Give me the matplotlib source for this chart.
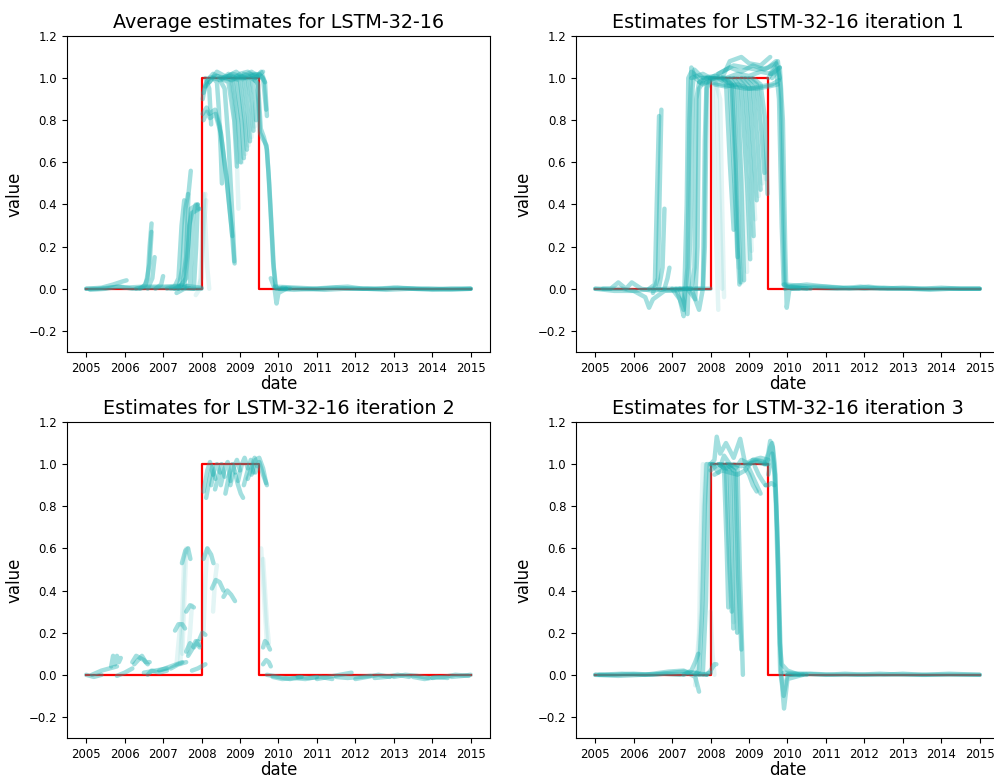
import matplotlib
matplotlib.use("Agg")
import matplotlib.pyplot as plt

# ---- shared values ----
year_ticks = [2005, 2006, 2007, 2008, 2009, 2010, 2011, 2012, 2013, 2014, 2015]
value_ticks = [-0.2, 0.0, 0.2, 0.4, 0.6, 0.8, 1.0, 1.2]
target_x = [2005.0, 2008.0, 2008.0, 2009.5, 2009.5, 2015.0]
target_y = [0.0, 0.0, 1.0, 1.0, 0.0, 0.0]

titles = [
    "Average estimates for LSTM-32-16",
    "Estimates for LSTM-32-16 iteration 1",
    "Estimates for LSTM-32-16 iteration 2",
    "Estimates for LSTM-32-16 iteration 3",
]

# ---- average estimates: (dates, values) per window ----
avg_paths = [
    ([2005.0, 2005.3, 2005.6, 2005.9, 2006.2, 2006.6, 2007.0, 2007.4, 2007.8, 2008.0],
     [0.0, 0.0, 0.005, 0.01, 0.0, 0.005, 0.005, 0.01, 0.0, 0.0]),
    ([2005.0, 2005.4, 2005.7, 2005.95, 2006.05], [0.0, 0.005, 0.02, 0.035, 0.04]),
    ([2005.1, 2005.5, 2005.8, 2006.0, 2006.5, 2007.0, 2007.5, 2008.0],
     [-0.005, 0.0, 0.01, 0.005, 0.01, 0.01, 0.015, 0.005]),
    ([2006.3, 2006.5, 2006.6, 2006.65, 2006.7], [0.0, 0.01, 0.05, 0.2, 0.31]),
    ([2006.4, 2006.55, 2006.65, 2006.7], [0.0, 0.02, 0.12, 0.27]),
    ([2006.6, 2006.72, 2006.78], [0.0, 0.05, 0.15]),
    ([2006.8, 2006.95, 2007.0], [0.0, 0.02, 0.06]),
    ([2007.1, 2007.3, 2007.4, 2007.48, 2007.55], [0.0, 0.01, 0.05, 0.3, 0.42]),
    ([2007.2, 2007.4, 2007.5, 2007.58, 2007.65], [0.0, 0.0, 0.1, 0.38, 0.45]),
    ([2007.3, 2007.5, 2007.6, 2007.66, 2007.72], [0.0, 0.02, 0.15, 0.45, 0.56]),
    ([2007.35, 2007.55, 2007.65, 2007.72, 2007.9], [-0.02, 0.0, 0.2, 0.38, 0.4]),
    ([2007.4, 2007.6, 2007.68, 2007.75, 2007.95], [0.0, 0.05, 0.3, 0.36, 0.38]),
    ([2007.5, 2007.7, 2007.78, 2007.85, 2007.92], [0.0, 0.02, 0.35, 0.4, 0.38]),
    ([2007.6, 2007.8, 2007.86, 2007.9], [0.0, 0.0, 0.2, 0.4]),
    # windows sitting on the 1.0 level
    ([2008.03, 2008.1, 2008.2, 2008.4, 2008.6, 2008.8, 2009.0, 2009.2, 2009.4, 2009.55, 2009.65],
     [0.9, 0.97, 1.0, 1.01, 1.0, 1.02, 1.01, 1.0, 1.02, 1.01, 0.98]),
    ([2008.05, 2008.15, 2008.3, 2008.5, 2008.7, 2008.9, 2009.1, 2009.3, 2009.5],
     [0.93, 0.99, 1.02, 1.0, 1.01, 1.03, 1.0, 1.02, 1.0]),
    ([2008.1, 2008.3, 2008.5, 2008.7, 2008.9, 2009.1, 2009.3, 2009.45],
     [0.96, 1.0, 0.99, 1.02, 1.0, 1.01, 1.03, 1.01]),
    ([2008.2, 2008.4, 2008.6, 2008.8, 2009.0, 2009.2, 2009.4, 2009.6],
     [0.98, 1.03, 1.01, 0.99, 1.02, 1.03, 1.0, 1.03]),
    ([2008.1, 2008.2, 2008.25], [1.0, 0.95, 0.78]),
    # slower window peaking near 0.85
    ([2008.03, 2008.13, 2008.2, 2008.35, 2008.48, 2008.65, 2008.78, 2008.85],
     [0.83, 0.86, 0.83, 0.85, 0.77, 0.53, 0.29, 0.13]),
    ([2008.05, 2008.14, 2008.22, 2008.36, 2008.5, 2008.66, 2008.8],
     [0.8, 0.84, 0.81, 0.83, 0.74, 0.5, 0.25]),
    ([2008.3, 2008.4, 2008.45, 2008.5, 2008.53], [1.0, 0.98, 0.85, 0.65, 0.5]),
    ([2008.45, 2008.6, 2008.7, 2008.8, 2008.86], [1.0, 0.95, 0.7, 0.35, 0.12]),
    # windows dropping off before mid-2009
    ([2008.5, 2008.7, 2008.85, 2008.92], [1.0, 0.98, 0.8, 0.58]),
    ([2008.6, 2008.8, 2008.95, 2009.02], [1.0, 0.99, 0.8, 0.6]),
    ([2008.7, 2008.9, 2009.05, 2009.1], [1.01, 1.0, 0.78, 0.62]),
    ([2008.8, 2009.0, 2009.12, 2009.18], [1.0, 0.99, 0.8, 0.66]),
    ([2008.9, 2009.1, 2009.2, 2009.26], [1.01, 1.0, 0.85, 0.7]),
    ([2009.0, 2009.2, 2009.3, 2009.35], [1.0, 1.0, 0.88, 0.75]),
    ([2009.1, 2009.3, 2009.4, 2009.42], [1.02, 1.0, 0.9, 0.8]),
    # exit from the 1.0 level
    ([2009.3, 2009.45, 2009.52, 2009.6, 2009.69, 2009.74, 2009.8, 2009.86, 2009.92, 2010.0, 2010.3],
     [1.0, 0.98, 0.74, 0.71, 0.68, 0.55, 0.35, 0.13, 0.01, 0.0, 0.0]),
    ([2009.35, 2009.47, 2009.54, 2009.62, 2009.7, 2009.76, 2009.82, 2009.88, 2009.94, 2010.2],
     [1.0, 0.97, 0.76, 0.72, 0.66, 0.5, 0.3, 0.1, 0.0, 0.0]),
    ([2009.3, 2009.5, 2009.6, 2009.68], [1.01, 1.02, 1.0, 0.85]),
    ([2009.4, 2009.55, 2009.65, 2009.7], [1.0, 1.03, 0.98, 0.82]),
    ([2009.8, 2009.9, 2009.95, 2010.0, 2010.2], [0.05, 0.0, -0.07, -0.02, 0.0]),
    # after the episode
    ([2009.9, 2010.5, 2011.0, 2011.5, 2012.0, 2012.5, 2013.0, 2013.5, 2014.0, 2014.5, 2015.0],
     [0.01, 0.005, 0.0, 0.005, 0.0, 0.0, 0.005, 0.0, -0.005, 0.0, 0.0]),
    ([2010.0, 2010.4, 2010.9, 2011.3, 2011.8, 2012.2, 2012.7, 2013.1, 2013.6, 2014.1, 2014.6, 2015.0],
     [0.0, -0.005, 0.0, 0.005, 0.01, 0.0, 0.0, 0.005, 0.0, 0.0, 0.0, 0.0]),
    ([2010.1, 2010.6, 2011.2, 2011.7, 2012.3, 2012.8, 2013.4, 2013.9, 2014.5, 2015.0],
     [0.005, 0.0, -0.005, 0.0, 0.0, -0.005, 0.0, 0.0, -0.005, 0.0]),
]
avg_faint = [
    ([2007.85, 2007.95, 2008.0, 2008.05, 2008.1], [-0.03, 0.0, 0.15, 0.38, 0.45]),
    ([2007.9, 2008.0, 2008.06, 2008.12], [0.0, 0.05, 0.3, 0.42]),
    ([2008.05, 2008.1, 2008.15, 2008.2], [0.45, 0.3, 0.1, 0.0]),
    ([2008.55, 2008.75, 2008.88, 2008.95], [1.0, 0.98, 0.75, 0.6]),
    ([2008.65, 2008.85, 2008.98, 2009.05], [1.0, 0.98, 0.76, 0.6]),
    ([2008.75, 2008.95, 2009.08, 2009.14], [1.0, 0.99, 0.8, 0.64]),
    ([2008.85, 2009.05, 2009.16, 2009.22], [1.0, 0.99, 0.82, 0.68]),
    ([2008.95, 2009.15, 2009.25, 2009.3], [1.0, 0.99, 0.86, 0.72]),
    ([2009.05, 2009.25, 2009.33, 2009.38], [1.0, 1.0, 0.88, 0.77]),
    ([2008.75, 2008.85, 2008.92, 2008.96], [1.0, 0.9, 0.6, 0.38]),
]

# ---- iteration 1 ----
it1_paths = [
    ([2005.0, 2005.4, 2005.6, 2005.8, 2005.95, 2006.2, 2006.5, 2006.8, 2007.0, 2007.3],
     [0.0, 0.0, 0.03, 0.0, 0.03, 0.0, -0.01, 0.0, 0.0, 0.0]),
    ([2005.0, 2005.5, 2006.0, 2006.3, 2006.4, 2006.5, 2006.8, 2007.2, 2007.5],
     [0.0, -0.01, -0.01, -0.04, -0.09, -0.05, -0.01, 0.0, 0.0]),
    ([2005.2, 2005.7, 2006.0, 2006.5, 2007.0, 2007.4, 2007.8, 2008.0],
     [0.0, 0.0, -0.01, 0.0, -0.01, 0.0, 0.0, 0.0]),
    ([2006.4, 2006.55, 2006.6, 2006.66], [0.0, 0.02, 0.4, 0.82]),
    ([2006.5, 2006.63, 2006.68, 2006.72], [-0.02, 0.05, 0.5, 0.85]),
    ([2006.65, 2006.75, 2006.8], [0.0, 0.1, 0.38]),
    ([2006.8, 2006.88, 2006.93], [0.0, 0.05, 0.1]),
    ([2007.0, 2007.2, 2007.3, 2007.38, 2007.42, 2007.5, 2007.7, 2008.0, 2008.3],
     [0.0, -0.05, -0.13, 0.4, 1.0, 1.03, 1.0, 1.0, 0.99]),
    ([2007.1, 2007.3, 2007.4, 2007.45, 2007.5, 2007.6, 2007.8, 2008.1],
     [0.0, -0.1, 0.1, 0.8, 1.05, 1.0, 0.97, 1.0]),
    ([2007.2, 2007.4, 2007.48, 2007.53, 2007.58, 2007.8], [0.0, -0.12, 0.3, 0.95, 1.04, 1.0]),
    ([2007.3, 2007.5, 2007.58, 2007.63, 2007.7, 2007.9, 2008.2],
     [0.0, 0.0, 0.1, 0.9, 0.98, 1.0, 1.0]),
    ([2007.4, 2007.6, 2007.66, 2007.7, 2007.8], [0.0, -0.05, 0.2, 0.95, 0.98]),
    ([2007.5, 2007.7, 2007.8, 2007.85, 2007.9], [0.0, -0.1, 0.0, 0.7, 1.0]),
    ([2007.6, 2007.8, 2007.85, 2007.9, 2008.0], [0.0, 0.0, 0.2, 0.95, 1.0]),
    ([2007.5, 2007.8, 2008.0, 2008.3, 2008.6, 2008.9, 2009.2, 2009.5, 2009.7, 2009.8],
     [1.0, 1.02, 1.0, 1.03, 1.06, 1.05, 1.04, 1.05, 1.08, 1.0]),
    ([2007.7, 2008.0, 2008.3, 2008.6, 2008.9, 2009.2, 2009.5, 2009.75],
     [0.98, 0.98, 0.97, 0.96, 0.95, 0.95, 0.96, 0.97]),
    ([2007.8, 2008.1, 2008.4, 2008.7, 2009.0, 2009.3, 2009.6, 2009.8],
     [1.0, 1.01, 1.0, 1.02, 1.01, 1.03, 1.02, 1.05]),
    ([2008.0, 2008.3, 2008.5, 2008.8, 2009.0, 2009.3, 2009.55],
     [1.0, 1.0, 1.08, 1.1, 1.07, 1.06, 1.1]),
    ([2008.1, 2008.4, 2008.7, 2009.0, 2009.3, 2009.6, 2009.78],
     [0.97, 0.96, 0.97, 0.95, 0.96, 0.97, 0.99]),
    ([2008.2, 2008.5, 2008.8, 2009.1, 2009.4, 2009.7],
     [1.02, 1.05, 1.03, 1.06, 1.04, 1.07]),
    ([2008.2, 2008.4, 2008.5, 2008.6], [1.0, 0.98, 0.6, 0.28]),
    ([2008.3, 2008.5, 2008.62, 2008.7], [1.0, 0.97, 0.5, 0.15]),
    ([2008.4, 2008.6, 2008.7, 2008.78], [1.0, 0.96, 0.4, 0.03]),
    ([2008.5, 2008.7, 2008.8, 2008.87], [1.0, 0.95, 0.5, 0.04]),
    ([2008.6, 2008.8, 2008.95, 2009.03], [1.0, 0.95, 0.5, 0.14]),
    ([2008.7, 2008.9, 2009.05, 2009.12], [1.0, 0.96, 0.55, 0.25]),
    ([2008.8, 2009.0, 2009.12, 2009.2], [1.0, 0.96, 0.65, 0.42]),
    ([2008.9, 2009.1, 2009.22, 2009.3], [1.0, 0.96, 0.7, 0.47]),
    ([2009.0, 2009.2, 2009.32, 2009.4], [1.0, 0.97, 0.75, 0.55]),
    ([2009.1, 2009.3, 2009.42, 2009.48], [1.0, 0.97, 0.8, 0.45]),
    ([2008.3, 2008.55, 2008.65, 2008.7, 2008.75], [1.0, 0.97, 0.6, 0.2, 0.02]),
    ([2009.5, 2009.7, 2009.78, 2009.85, 2009.9, 2010.0, 2010.5],
     [1.0, 1.05, 0.9, 0.3, 0.02, 0.01, 0.0]),
    ([2009.55, 2009.75, 2009.82, 2009.88, 2009.93, 2010.1, 2010.6],
     [1.02, 1.08, 0.95, 0.4, 0.0, 0.01, 0.0]),
    ([2009.6, 2009.8, 2009.88, 2009.94, 2009.98, 2010.05, 2010.3],
     [1.0, 1.05, 0.8, 0.2, -0.09, 0.0, 0.0]),
    ([2009.9, 2010.3, 2010.6, 2011.0, 2011.5, 2012.0, 2012.5, 2013.0, 2013.5, 2014.0, 2014.5, 2015.0],
     [0.02, 0.015, 0.01, 0.01, 0.005, 0.0, 0.005, 0.0, 0.0, 0.005, 0.0, 0.0]),
    ([2010.0, 2010.5, 2011.0, 2011.6, 2012.1, 2012.6, 2013.2, 2013.7, 2014.2, 2014.7, 2015.0],
     [0.01, 0.02, 0.01, 0.0, 0.01, 0.0, 0.0, -0.005, 0.0, 0.0, 0.0]),
    ([2010.1, 2010.7, 2011.3, 2011.9, 2012.4, 2013.0, 2013.6, 2014.2, 2015.0],
     [0.0, 0.005, 0.0, 0.01, 0.0, 0.005, 0.0, 0.0, 0.0]),
]
it1_faint = [
    ([2007.9, 2008.05, 2008.12, 2008.2], [1.0, 0.95, 0.4, -0.1]),
    ([2008.0, 2008.15, 2008.22, 2008.3], [1.0, 0.97, 0.5, 0.0]),
    ([2008.1, 2008.25, 2008.3, 2008.35], [1.0, 0.9, 0.4, -0.04]),
    ([2008.35, 2008.55, 2008.65, 2008.73], [1.0, 0.97, 0.45, 0.1]),
    ([2008.45, 2008.65, 2008.75, 2008.82], [1.0, 0.96, 0.5, 0.03]),
    ([2008.55, 2008.75, 2008.88, 2008.95], [1.0, 0.96, 0.45, 0.08]),
    ([2008.65, 2008.85, 2009.0, 2009.07], [1.0, 0.96, 0.5, 0.18]),
    ([2008.75, 2008.95, 2009.08, 2009.16], [1.0, 0.96, 0.6, 0.33]),
    ([2008.85, 2009.05, 2009.18, 2009.25], [1.0, 0.97, 0.65, 0.44]),
    ([2008.95, 2009.15, 2009.28, 2009.35], [1.0, 0.97, 0.72, 0.5]),
    ([2009.05, 2009.25, 2009.37, 2009.44], [1.0, 0.97, 0.78, 0.52]),
]

# ---- iteration 2 ----
it2_paths = [
    ([2005.0, 2005.2, 2005.4], [0.0, -0.01, 0.0]),
    ([2005.15, 2005.4, 2005.6, 2005.8], [0.0, 0.02, 0.03, 0.04]),
    ([2005.65, 2005.7, 2005.75, 2005.8, 2005.85, 2005.9], [0.04, 0.09, 0.05, 0.09, 0.06, 0.08]),
    ([2005.8, 2006.0, 2006.2], [-0.005, 0.01, 0.03]),
    ([2006.2, 2006.3, 2006.4, 2006.5, 2006.6], [0.06, 0.09, 0.08, 0.07, 0.05]),
    ([2006.25, 2006.35, 2006.45, 2006.55, 2006.65], [0.05, 0.07, 0.09, 0.06, 0.06]),
    ([2006.5, 2006.8, 2007.1], [0.01, 0.02, 0.03]),
    ([2006.6, 2006.7, 2006.9, 2007.1], [0.0, 0.02, 0.01, 0.02]),
    ([2006.9, 2007.2, 2007.5], [0.02, 0.04, 0.06]),
    ([2007.2, 2007.4, 2007.6], [0.03, 0.05, 0.06]),
    ([2007.31, 2007.4, 2007.5, 2007.57], [0.21, 0.24, 0.24, 0.22]),
    ([2007.49, 2007.58, 2007.65, 2007.71], [0.53, 0.59, 0.6, 0.55]),
    ([2007.6, 2007.7, 2007.8], [0.3, 0.33, 0.32]),
    ([2007.6, 2007.7, 2007.8, 2007.9, 2007.95], [0.11, 0.15, 0.13, 0.16, 0.14]),
    ([2007.65, 2007.75, 2007.85, 2007.95], [0.09, 0.12, 0.16, 0.13]),
    ([2007.95, 2008.02, 2008.1], [0.17, 0.2, 0.19]),
    ([2007.75, 2007.9, 2008.1], [0.02, 0.03, 0.05]),
    ([2008.05, 2008.15, 2008.25, 2008.31], [0.55, 0.6, 0.57, 0.53]),
    ([2008.27, 2008.37, 2008.47, 2008.57], [0.41, 0.45, 0.44, 0.4]),
    ([2008.57, 2008.67, 2008.77, 2008.87], [0.37, 0.4, 0.38, 0.35]),
    ([2008.05, 2008.15, 2008.22, 2008.3], [0.87, 0.97, 1.01, 0.95]),
    ([2008.12, 2008.2, 2008.28, 2008.36], [0.84, 0.92, 0.99, 0.93]),
    ([2008.25, 2008.33, 2008.4, 2008.48], [0.9, 0.97, 1.0, 0.96]),
    ([2008.35, 2008.45, 2008.52, 2008.6], [0.88, 0.95, 1.0, 0.94]),
    ([2008.5, 2008.6, 2008.68, 2008.75], [0.9, 0.98, 1.01, 0.92]),
    ([2008.62, 2008.72, 2008.8, 2008.88], [0.86, 0.95, 1.0, 0.96]),
    ([2008.75, 2008.85, 2008.92, 2009.0], [0.9, 0.99, 1.02, 0.97]),
    ([2008.88, 2008.95, 2009.02, 2009.08], [0.95, 0.9, 0.86, 0.84]),
    ([2008.95, 2009.05, 2009.12, 2009.2], [0.92, 1.0, 1.03, 0.98]),
    ([2009.1, 2009.2, 2009.28, 2009.35], [0.9, 0.97, 1.02, 0.96]),
    ([2009.2, 2009.3, 2009.38, 2009.45], [0.93, 0.98, 1.03, 0.99]),
    ([2009.3, 2009.4, 2009.5, 2009.6, 2009.68], [0.95, 1.02, 1.03, 0.98, 0.91]),
    ([2009.4, 2009.5, 2009.6, 2009.7], [0.96, 1.01, 0.95, 0.9]),
    ([2009.6, 2009.65, 2009.7, 2009.78], [0.13, 0.16, 0.15, 0.12]),
    ([2009.6, 2009.68, 2009.75, 2009.8], [0.05, 0.07, 0.06, 0.04]),
    ([2009.7, 2010.0, 2010.3, 2010.6], [0.0, -0.01, -0.02, -0.01]),
    ([2009.85, 2010.1, 2010.4, 2010.7, 2011.0], [-0.01, -0.02, -0.015, -0.02, -0.01]),
    ([2010.5, 2010.8, 2011.1, 2011.4], [-0.01, -0.015, -0.01, -0.02]),
    ([2011.0, 2011.3, 2011.6, 2011.9], [-0.02, -0.01, 0.0, 0.01]),
    ([2011.5, 2011.8, 2012.1, 2012.4], [-0.01, -0.015, -0.01, -0.005]),
    ([2012.0, 2012.3, 2012.6, 2012.9], [-0.02, -0.01, 0.0, -0.01]),
    ([2012.5, 2012.8, 2013.1, 2013.4], [-0.015, -0.01, 0.0, -0.01]),
    ([2013.0, 2013.3, 2013.6, 2013.9], [-0.01, 0.0, -0.005, -0.015]),
    ([2013.5, 2013.8, 2014.1, 2014.4], [-0.01, -0.02, -0.01, -0.015]),
    ([2014.0, 2014.3, 2014.6, 2014.95], [-0.015, -0.01, 0.0, -0.005]),
    ([2014.5, 2014.8, 2015.0], [-0.01, -0.005, 0.0]),
]
it2_faint = [
    ([2007.45, 2007.5, 2007.55, 2007.6], [0.05, 0.3, 0.55, 0.6]),
    ([2007.5, 2007.55, 2007.6, 2007.65], [0.1, 0.35, 0.58, 0.6]),
    ([2007.35, 2007.4, 2007.45], [0.05, 0.15, 0.24]),
    ([2007.65, 2007.7, 2007.75], [0.1, 0.2, 0.33]),
    ([2008.05, 2008.1, 2008.15], [0.2, 0.45, 0.6]),
    ([2008.3, 2008.35, 2008.4], [0.3, 0.45, 0.52]),
    ([2009.55, 2009.6, 2009.65, 2009.7], [0.6, 0.45, 0.3, 0.15]),
    ([2009.6, 2009.65, 2009.7, 2009.75], [0.55, 0.4, 0.25, 0.15]),
]

# ---- iteration 3 ----
it3_paths = [
    ([2005.0, 2005.5, 2006.0, 2006.5, 2007.0, 2007.3, 2007.6, 2007.9],
     [0.0, 0.0, 0.005, 0.0, 0.01, 0.015, 0.01, 0.0]),
    ([2005.0, 2005.6, 2006.2, 2006.8, 2007.2, 2007.5, 2007.8, 2008.0],
     [0.0, -0.005, 0.0, 0.005, 0.0, 0.01, 0.0, 0.01]),
    ([2005.1, 2005.7, 2006.3, 2006.9, 2007.3, 2007.6, 2007.7],
     [0.0, 0.005, 0.0, 0.015, 0.02, -0.01, -0.08]),
    ([2007.3, 2007.5, 2007.6, 2007.68], [0.0, 0.02, 0.06, 0.1]),
    ([2007.6, 2007.7, 2007.78, 2007.85, 2007.9, 2008.0], [0.0, 0.02, 0.3, 0.8, 1.0, 1.0]),
    ([2007.7, 2007.8, 2007.88, 2007.94, 2007.98, 2008.1], [0.0, 0.01, 0.35, 0.85, 1.0, 1.0]),
    ([2007.9, 2008.0, 2008.1, 2008.15], [0.0, 0.02, 0.05, 0.05]),
    ([2008.0, 2008.1, 2008.16, 2008.25, 2008.4, 2008.6, 2008.77, 2008.9, 2009.1, 2009.3, 2009.45],
     [1.0, 1.02, 1.13, 1.05, 1.1, 1.03, 1.12, 1.0, 1.02, 1.01, 1.0]),
    ([2008.0, 2008.2, 2008.4, 2008.6, 2008.8, 2009.0, 2009.2, 2009.4, 2009.5],
     [0.97, 1.0, 0.98, 1.0, 0.99, 1.0, 1.01, 1.0, 1.0]),
    ([2008.05, 2008.2, 2008.35, 2008.5, 2008.65, 2008.8, 2009.0, 2009.2, 2009.4],
     [1.0, 0.96, 1.04, 1.0, 0.98, 1.02, 1.0, 1.02, 1.01]),
    ([2008.1, 2008.3, 2008.5, 2008.7, 2008.9, 2009.1, 2009.3, 2009.5],
     [0.95, 0.97, 0.96, 0.95, 0.97, 1.02, 1.03, 1.02]),
    ([2008.2, 2008.35, 2008.42, 2008.46], [1.0, 0.98, 0.6, 0.32]),
    ([2008.3, 2008.5, 2008.55, 2008.59], [1.0, 0.97, 0.6, 0.22]),
    ([2008.4, 2008.6, 2008.65, 2008.69], [1.0, 0.97, 0.55, 0.2]),
    ([2008.5, 2008.7, 2008.76, 2008.84], [1.0, 0.98, 0.5, 0.0]),
    ([2008.45, 2008.65, 2008.72, 2008.8], [1.0, 0.96, 0.45, 0.12]),
    ([2008.25, 2008.4, 2008.48, 2008.55], [1.0, 0.97, 0.55, 0.3]),
    ([2008.9, 2009.0, 2009.1, 2009.2], [0.98, 0.95, 0.9, 0.87]),
    ([2009.0, 2009.1, 2009.2, 2009.3], [0.98, 0.94, 0.9, 0.86]),
    ([2009.15, 2009.25, 2009.35, 2009.43], [0.99, 0.95, 0.92, 0.9]),
    ([2009.43, 2009.5, 2009.58, 2009.66], [0.9, 0.9, 0.91, 0.9]),
    ([2009.4, 2009.5, 2009.55, 2009.62, 2009.7, 2009.76, 2009.81, 2009.86, 2009.91, 2010.0, 2010.4],
     [1.0, 1.05, 1.11, 1.08, 0.8, 0.4, 0.02, -0.05, -0.16, -0.02, 0.0]),
    ([2009.45, 2009.55, 2009.6, 2009.67, 2009.73, 2009.79, 2009.84, 2009.9, 2010.0, 2010.5],
     [1.0, 1.08, 1.1, 1.0, 0.7, 0.3, 0.0, -0.1, 0.0, 0.0]),
    ([2009.5, 2009.6, 2009.68, 2009.75, 2009.8, 2009.85, 2010.0, 2010.3],
     [0.95, 1.05, 0.95, 0.6, 0.15, 0.05, 0.02, 0.0]),
    ([2009.9, 2010.4, 2011.0, 2011.5, 2012.0, 2012.5, 2013.0, 2013.5, 2014.0, 2014.5, 2015.0],
     [0.01, 0.005, 0.0, 0.005, 0.0, 0.0, 0.005, 0.0, 0.0, 0.0, 0.0]),
    ([2010.0, 2010.6, 2011.2, 2011.8, 2012.4, 2013.0, 2013.6, 2014.2, 2015.0],
     [0.0, 0.005, 0.0, 0.0, 0.005, 0.0, 0.0, 0.005, 0.0]),
]
it3_faint = [
    ([2007.6, 2007.7, 2007.75, 2007.8], [-0.05, 0.2, 0.7, 1.0]),
    ([2007.65, 2007.75, 2007.82, 2007.88], [0.0, 0.3, 0.8, 1.0]),
    ([2008.0, 2008.05, 2008.1], [0.3, 0.1, 0.0]),
    ([2008.3, 2008.45, 2008.52, 2008.6], [1.0, 0.97, 0.5, 0.25]),
    ([2008.4, 2008.55, 2008.62, 2008.7], [1.0, 0.97, 0.5, 0.2]),
]

panels = [
    (titles[0], avg_paths, avg_faint),
    (titles[1], it1_paths, it1_faint),
    (titles[2], it2_paths, it2_faint),
    (titles[3], it3_paths, it3_faint),
]

TEAL = "#1aafaf"
fig = plt.figure(figsize=(9.95, 7.78), dpi=100)
positions = [
    [0.0673, 0.5476, 0.4251, 0.4062],
    [0.5789, 0.5476, 0.4251, 0.4062],
    [0.0673, 0.0514, 0.4251, 0.4062],
    [0.5789, 0.0514, 0.4251, 0.4062],
]

for pos, (title, paths, faint) in zip(positions, panels):
    ax = fig.add_axes(pos)
    ax.plot(target_x, target_y, color="red", lw=1.6)
    for xs, ys in paths:
        ax.plot(xs, ys, color=TEAL, lw=3.2, alpha=0.4, solid_capstyle="round")
    for xs, ys in faint:
        ax.plot(xs, ys, color=TEAL, lw=3.2, alpha=0.12, solid_capstyle="round")
    ax.set_xlim(2004.5, 2015.5)
    ax.set_ylim(-0.3, 1.2)
    ax.set_xticks(year_ticks)
    ax.set_xticklabels([str(y) for y in year_ticks])
    ax.set_yticks(value_ticks)
    ax.tick_params(labelsize=8.5)
    ax.set_title(title, fontsize=13.8)
    ax.set_xlabel("date", fontsize=12, labelpad=0)
    ax.set_ylabel("value", fontsize=12)

fig.savefig("out.png", dpi=100)
